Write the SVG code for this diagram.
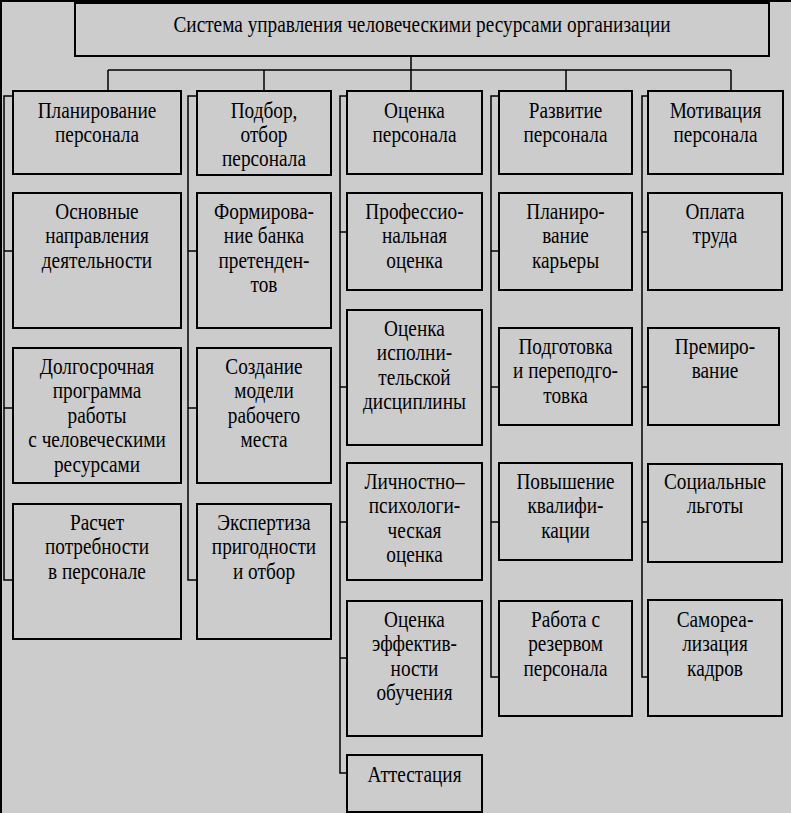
<svg xmlns="http://www.w3.org/2000/svg" width="791" height="813" viewBox="0 0 791 813">
<style>
.bx{fill:none;stroke:#000;stroke-width:2}
.ln{fill:none;stroke:#000;stroke-width:1.5}
text{font-family:"Liberation Serif","Times New Roman",serif;font-size:19.3px;text-anchor:middle;fill:#000}
</style>
<rect x="0" y="0" width="791" height="813" fill="#cccccc"/>
<path d="M1,813 V1 H791" fill="none" stroke="#000" stroke-width="2"/>
<g id="connectors" class="ln">
<path d="M411,56 V91 M108,70 H731 M108,70 V91 M264,70 V91 M566,70 V91 M731,70 V91"/>
<path d="M13,96 H4 V580 H13 M4,251 H13 M4,408 H13"/>
<path d="M197,96 H188 V580 H197 M188,251 H197 M188,408 H197"/>
<path d="M347,96 H340 V773 H347 M340,232 H347 M340,387 H347 M340,522 H347 M340,658 H347"/>
<path d="M499,96 H491 V677 H499 M491,251 H499 M491,387 H499 M491,522 H499"/>
<path d="M648,96 H642 V677 H648 M642,232 H648 M642,387 H648 M642,522 H648"/>
</g>
<g id="root"><rect class="bx" x="75" y="3" width="694" height="53"/><g transform="scale(1,1.2)"><text x="422" y="26.667">Система управления человеческими ресурсами организации</text></g></g>
<g id="h1"><rect class="bx" x="13" y="91" width="168" height="83"/><g transform="scale(1,1.2)"><text x="97" y="98.333">Планирование</text><text x="97" y="118.333">персонала</text></g></g>
<g id="h2"><rect class="bx" x="197" y="91" width="134" height="84"/><g transform="scale(1,1.2)"><text x="264" y="98.333">Подбор,</text><text x="264" y="118.333">отбор</text><text x="264" y="138.333">персонала</text></g></g>
<g id="h3"><rect class="bx" x="347" y="91" width="135" height="83"/><g transform="scale(1,1.2)"><text x="414.5" y="98.333">Оценка</text><text x="414.5" y="118.333">персонала</text></g></g>
<g id="h4"><rect class="bx" x="499" y="91" width="133" height="83"/><g transform="scale(1,1.2)"><text x="565.5" y="98.333">Развитие</text><text x="565.5" y="118.333">персонала</text></g></g>
<g id="h5"><rect class="bx" x="648" y="91" width="135" height="83"/><g transform="scale(1,1.2)"><text x="715.5" y="98.333">Мотивация</text><text x="715.5" y="118.333">персонала</text></g></g>

<g id="c1b1"><rect class="bx" x="13" y="193" width="168" height="135"/><g transform="scale(1,1.2)"><text x="97" y="182.5">Основные</text><text x="97" y="202.917">направления</text><text x="97" y="223.333">деятельности</text></g></g>
<g id="c1b2"><rect class="bx" x="13" y="348" width="168" height="135"/><g transform="scale(1,1.2)"><text x="97" y="311.667">Долгосрочная</text><text x="97" y="332.083">программа</text><text x="97" y="352.5">работы</text><text x="97" y="372.917">с человеческими</text><text x="97" y="393.333">ресурсами</text></g></g>
<g id="c1b3"><rect class="bx" x="13" y="504" width="168" height="135"/><g transform="scale(1,1.2)"><text x="97" y="441.667">Расчет</text><text x="97" y="462.083">потребности</text><text x="97" y="482.5">в персонале</text></g></g>

<g id="c2b1"><rect class="bx" x="197" y="193" width="134" height="135"/><g transform="scale(1,1.2)"><text x="264" y="182.5">Формирова-</text><text x="264" y="202.917">ние банка</text><text x="264" y="223.333">претенден-</text><text x="264" y="243.75">тов</text></g></g>
<g id="c2b2"><rect class="bx" x="197" y="348" width="134" height="135"/><g transform="scale(1,1.2)"><text x="264" y="311.667">Создание</text><text x="264" y="332.083">модели</text><text x="264" y="352.5">рабочего</text><text x="264" y="372.917">места</text></g></g>
<g id="c2b3"><rect class="bx" x="197" y="504" width="134" height="135"/><g transform="scale(1,1.2)"><text x="264" y="441.667">Экспертиза</text><text x="264" y="462.083">пригодности</text><text x="264" y="482.5">и отбор</text></g></g>

<g id="c3b1"><rect class="bx" x="347" y="193" width="135" height="97"/><g transform="scale(1,1.2)"><text x="414.5" y="182.5">Профессио-</text><text x="414.5" y="202.917">нальная</text><text x="414.5" y="223.333">оценка</text></g></g>
<g id="c3b2"><rect class="bx" x="347" y="310" width="135" height="135"/><g transform="scale(1,1.2)"><text x="414.5" y="280">Оценка</text><text x="414.5" y="300.417">исполни-</text><text x="414.5" y="320.833">тельской</text><text x="414.5" y="341.25">дисциплины</text></g></g>
<g id="c3b3"><rect class="bx" x="347" y="463" width="135" height="117"/><g transform="scale(1,1.2)"><text x="414.5" y="407.5">Личностно–</text><text x="414.5" y="427.917">психологи-</text><text x="414.5" y="448.333">ческая</text><text x="414.5" y="468.75">оценка</text></g></g>
<g id="c3b4"><rect class="bx" x="347" y="601" width="135" height="135"/><g transform="scale(1,1.2)"><text x="414.5" y="522.5">Оценка</text><text x="414.5" y="542.917">эффектив-</text><text x="414.5" y="563.333">ности</text><text x="414.5" y="583.75">обучения</text></g></g>
<g id="c3b5"><rect class="bx" x="347" y="755" width="135" height="57"/><g transform="scale(1,1.2)"><text x="414.5" y="651.667">Аттестация</text></g></g>

<g id="c4b1"><rect class="bx" x="499" y="193" width="133" height="97"/><g transform="scale(1,1.2)"><text x="565.5" y="182.5">Планиро-</text><text x="565.5" y="202.917">вание</text><text x="565.5" y="223.333">карьеры</text></g></g>
<g id="c4b2"><rect class="bx" x="499" y="328" width="133" height="97"/><g transform="scale(1,1.2)"><text x="565.5" y="295">Подготовка</text><text x="565.5" y="315.417">и переподго-</text><text x="565.5" y="335.833">товка</text></g></g>
<g id="c4b3"><rect class="bx" x="499" y="463" width="133" height="97"/><g transform="scale(1,1.2)"><text x="565.5" y="407.5">Повышение</text><text x="565.5" y="427.917">квалифи-</text><text x="565.5" y="448.333">кации</text></g></g>
<g id="c4b4"><rect class="bx" x="499" y="601" width="133" height="115"/><g transform="scale(1,1.2)"><text x="565.5" y="522.5">Работа с</text><text x="565.5" y="542.917">резервом</text><text x="565.5" y="563.333">персонала</text></g></g>

<g id="c5b1"><rect class="bx" x="648" y="193" width="134" height="97"/><g transform="scale(1,1.2)"><text x="715" y="182.5">Оплата</text><text x="715" y="202.917">труда</text></g></g>
<g id="c5b2"><rect class="bx" x="648" y="328" width="131" height="97"/><g transform="scale(1,1.2)"><text x="715" y="295">Премиро-</text><text x="715" y="315.417">вание</text></g></g>
<g id="c5b3"><rect class="bx" x="648" y="464" width="134" height="98"/><g transform="scale(1,1.2)"><text x="715" y="407.5">Социальные</text><text x="715" y="427.917">льготы</text></g></g>
<g id="c5b4"><rect class="bx" x="648" y="600" width="134" height="116"/><g transform="scale(1,1.2)"><text x="715" y="522.5">Самореа-</text><text x="715" y="542.917">лизация</text><text x="715" y="563.333">кадров</text></g></g>
</svg>
